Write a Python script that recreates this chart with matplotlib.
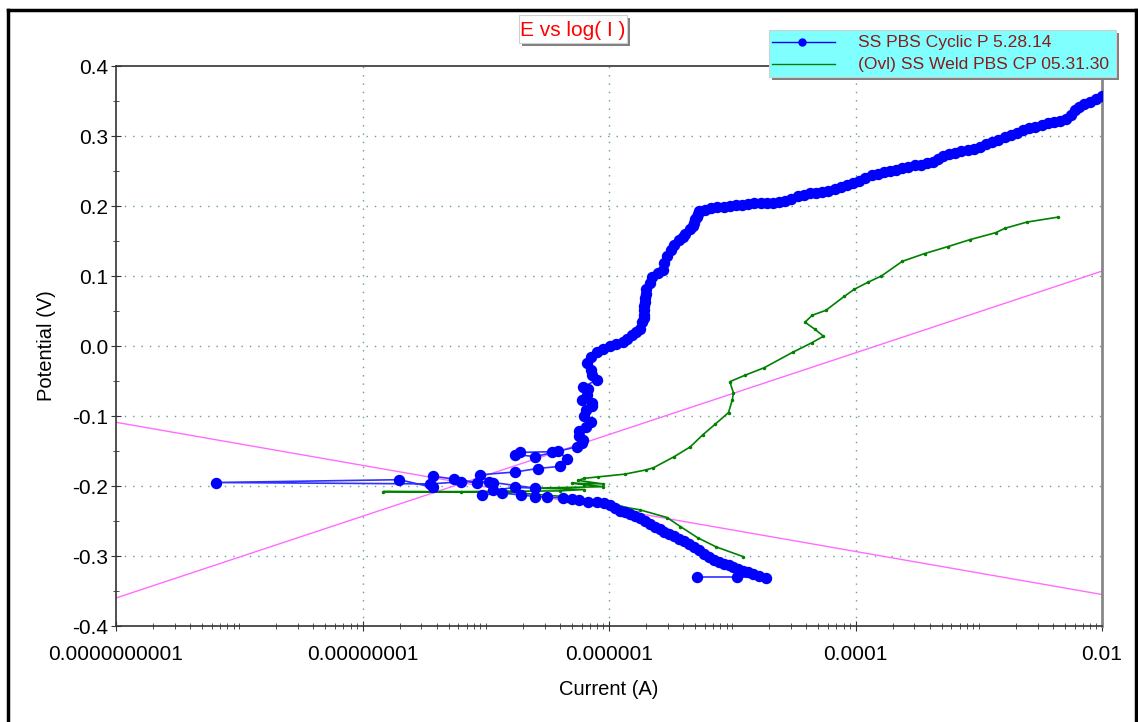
import numpy as np
import matplotlib
matplotlib.use("Agg")
import matplotlib.pyplot as plt
from matplotlib.patches import Rectangle
from matplotlib.lines import Line2D
from matplotlib.ticker import FixedLocator, NullFormatter

plt.rcParams['font.family'] = ['Liberation Sans', 'DejaVu Sans']

# -----------------------------------------------------------
# Dados (log10 da corrente em A, potencial em V)
# -----------------------------------------------------------
serie_azul = "SS PBS Cyclic P 5.28.14"
# ramo catodico (de -0.33 V ate Ecorr)
azul_cat_logi = [-5.29, -4.96, -4.73, -4.78, -4.83, -4.87, -4.91, -4.95, -4.99, -5.03,
                 -5.07, -5.11, -5.15, -5.19, -5.23, -5.27, -5.31, -5.35, -5.39, -5.43,
                 -5.47, -5.51, -5.55, -5.59, -5.63, -5.67, -5.71, -5.75, -5.79, -5.83,
                 -5.87, -5.91, -5.95, -5.99, -6.04, -6.10, -6.17, -6.24, -6.30, -6.37,
                 -6.50, -6.60, -6.71, -6.87, -7.03]
azul_cat_e = [-0.330, -0.330, -0.331, -0.328, -0.325, -0.323, -0.321, -0.318, -0.316, -0.313,
              -0.311, -0.308, -0.305, -0.301, -0.297, -0.292, -0.287, -0.283, -0.279, -0.275,
              -0.271, -0.268, -0.265, -0.262, -0.258, -0.254, -0.250, -0.246, -0.243, -0.240,
              -0.237, -0.235, -0.231, -0.227, -0.224, -0.223, -0.223, -0.220, -0.218, -0.217,
              -0.216, -0.215, -0.213, -0.210, -0.213]
# regiao de Ecorr
azul_ecorr_logi = [-6.94, -6.76, -6.60, -6.94, -7.07, -7.26, -7.43, -7.43, -7.70, -9.19,
                   -7.45, -7.20, -6.97, -7.05, -6.76, -6.58, -6.40, -6.34, -6.41, -6.46,
                   -6.72, -6.76, -6.60]
azul_ecorr_e = [-0.206, -0.202, -0.203, -0.195, -0.195, -0.190, -0.186, -0.202, -0.191, -0.195,
                -0.197, -0.194, -0.194, -0.184, -0.180, -0.175, -0.172, -0.162, -0.150, -0.151,
                -0.152, -0.155, -0.158]
# ramo anodico
azul_an_logi = [-6.26, -6.22, -6.21, -6.24, -6.24, -6.19, -6.15, -6.20, -6.19, -6.14,
                -6.14, -6.22, -6.18, -6.17, -6.21, -6.10, -6.14, -6.15, -6.18, -6.15,
                -6.10, -6.05, -5.99, -5.94, -5.89, -5.85, -5.81, -5.78, -5.75, -5.73,
                -5.72, -5.72, -5.72, -5.72, -5.71, -5.71, -5.70, -5.70, -5.67, -5.65,
                -5.60, -5.56, -5.55, -5.53, -5.50, -5.47, -5.43, -5.40, -5.38, -5.34,
                -5.32, -5.31, -5.30, -5.29, -5.28, -5.27, -5.22, -5.17, -5.12, -5.07,
                -5.02, -4.97, -4.92, -4.87, -4.82, -4.77, -4.72, -4.67, -4.62, -4.57,
                -4.52, -4.47, -4.42, -4.37, -4.32, -4.27, -4.22, -4.17, -4.12, -4.07,
                -4.02, -3.97, -3.92, -3.87, -3.82, -3.77, -3.72, -3.67, -3.62, -3.57,
                -3.52, -3.47, -3.42, -3.37, -3.33, -3.29, -3.24, -3.19, -3.14, -3.09,
                -3.04, -2.99, -2.94, -2.89, -2.84, -2.79, -2.74, -2.69, -2.64, -2.59,
                -2.54, -2.49, -2.44, -2.39, -2.34, -2.29, -2.25, -2.22, -2.19, -2.15,
                -2.10, -2.05, -2.00]
azul_an_e = [-0.144, -0.139, -0.134, -0.128, -0.122, -0.116, -0.109, -0.100, -0.091, -0.086,
             -0.081, -0.077, -0.070, -0.062, -0.059, -0.048, -0.041, -0.034, -0.024, -0.016,
             -0.009, -0.004, 0.000, 0.003, 0.006, 0.010, 0.016, 0.020, 0.024, 0.034,
             0.040, 0.045, 0.051, 0.057, 0.063, 0.069, 0.075, 0.081, 0.090, 0.098,
             0.104, 0.109, 0.118, 0.128, 0.137, 0.145, 0.152, 0.156, 0.160, 0.167,
             0.172, 0.176, 0.181, 0.185, 0.189, 0.193, 0.195, 0.197, 0.198, 0.199,
             0.200, 0.201, 0.202, 0.203, 0.204, 0.204, 0.205, 0.205, 0.206, 0.207,
             0.210, 0.214, 0.216, 0.218, 0.219, 0.220, 0.222, 0.225, 0.227, 0.230,
             0.233, 0.236, 0.240, 0.244, 0.246, 0.248, 0.250, 0.252, 0.254, 0.256,
             0.258, 0.259, 0.261, 0.263, 0.267, 0.271, 0.274, 0.276, 0.278, 0.280,
             0.282, 0.285, 0.288, 0.291, 0.294, 0.298, 0.301, 0.304, 0.308, 0.311,
             0.313, 0.316, 0.318, 0.320, 0.322, 0.325, 0.330, 0.337, 0.342, 0.346,
             0.349, 0.353, 0.357]

serie_verde = "(Ovl) SS Weld PBS CP 05.31.30"
verde_logi = [-4.91, -5.13, -5.28, -5.42, -5.53, -5.75, -5.85, -5.94, -6.18, -6.34,
              -6.37, -6.80, -7.83, -7.20, -6.40, -6.20, -6.60, -6.05, -6.20, -6.30,
              -6.05, -6.25, -6.20, -6.09, -5.87, -5.70, -5.64, -5.47, -5.34, -5.24,
              -5.14, -5.03, -5.00, -4.99, -5.02, -4.90, -4.74, -4.51, -4.35, -4.26,
              -4.33, -4.41, -4.35, -4.24, -4.09, -4.01, -3.90, -3.79, -3.62, -3.44,
              -3.25, -3.07, -2.86, -2.79, -2.61, -2.36]
verde_e = [-0.301, -0.287, -0.274, -0.258, -0.245, -0.234, -0.231, -0.227, -0.224, -0.222,
           -0.215, -0.209, -0.208, -0.208, -0.207, -0.205, -0.203, -0.201, -0.198, -0.196,
           -0.197, -0.192, -0.189, -0.187, -0.183, -0.177, -0.174, -0.158, -0.144, -0.127,
           -0.112, -0.095, -0.077, -0.067, -0.051, -0.042, -0.031, -0.009, 0.005, 0.014,
           0.024, 0.034, 0.044, 0.051, 0.071, 0.081, 0.091, 0.100, 0.121, 0.132,
           0.142, 0.152, 0.162, 0.168, 0.177, 0.184]

# retas de Tafel (extremos do eixo)
tafel_logi = [-10.0, -2.0]
tafel_cat_e = [-0.109, -0.355]
tafel_an_e = [-0.360, 0.107]

rotulos_x = ["0.0000000001", "0.00000001", "0.000001", "0.0001", "0.01"]
posicoes_x = [1e-10, 1e-8, 1e-6, 1e-4, 1e-2]
rotulos_y = ["-0.4", "-0.3", "-0.2", "-0.1", "0.0", "0.1", "0.2", "0.3", "0.4"]

# -----------------------------------------------------------
# Figura
# -----------------------------------------------------------
W, H = 1138, 722
fig = plt.figure(figsize=(W / 100, H / 100), dpi=100)
ax = fig.add_axes([116 / W, 1 - 626 / H, (1102 - 116) / W, (626 - 66) / H])

cor_grade = "#6a9a9a"
for xv in posicoes_x[1:-1]:
    ax.axvline(xv, color=cor_grade, lw=1, ls=(0, (1, 5)), zorder=0)
for yv in np.arange(-0.3, 0.35, 0.1):
    ax.axhline(yv, color=cor_grade, lw=1, ls=(0, (1, 5)), zorder=0)

ax.plot(10.0 ** np.array(tafel_logi), tafel_cat_e, color="#ff6cff", lw=1, zorder=2)
ax.plot(10.0 ** np.array(tafel_logi), tafel_an_e, color="#ff6cff", lw=1, zorder=2)

ax.plot(10.0 ** np.array(verde_logi), verde_e, color="#008000", lw=1.2,
        marker="o", ms=1.5, zorder=3)

azul_logi = azul_cat_logi + azul_ecorr_logi + azul_an_logi
azul_e = azul_cat_e + azul_ecorr_e + azul_an_e
ax.plot(10.0 ** np.array(azul_logi), azul_e, color="#3030ff", lw=1.2,
        marker="o", ms=7.2, mfc="#0000ff", mec="#0000ff", zorder=4)

ax.set_xscale("log")
ax.set_xlim(1e-10, 1e-2)
ax.set_ylim(-0.4, 0.4)

ax.xaxis.set_major_locator(FixedLocator(posicoes_x))
ax.set_xticklabels(rotulos_x)
decadas = [10.0 ** k for k in range(-10, -2)]
menores = [m * d for d in decadas for m in range(2, 10)] + [1e-9, 1e-7, 1e-5, 1e-3]
ax.xaxis.set_minor_locator(FixedLocator(menores))
ax.xaxis.set_minor_formatter(NullFormatter())

ax.set_yticks(np.linspace(-0.4, 0.4, 9))
ax.set_yticklabels(rotulos_y)
ax.set_yticks(np.arange(-0.35, 0.4, 0.1), minor=True)

ax.tick_params(axis="both", which="major", labelsize=15, length=7, direction="inout",
               color="#333333")
ax.tick_params(axis="x", which="major", pad=10)
ax.tick_params(axis="y", which="major", pad=2)
ax.tick_params(axis="both", which="minor", length=5, direction="inout", color="#333333")

for s in ["left", "bottom", "top"]:
    ax.spines[s].set_color("#333333")
    ax.spines[s].set_linewidth(1.2)
ax.spines["right"].set_color("#888888")
ax.spines["right"].set_linewidth(2)

ax.set_xlabel("Current (A)", fontsize=14.5, labelpad=12)
ax.set_ylabel("Potential (V)", fontsize=14.5, labelpad=12)

# -----------------------------------------------------------
# Moldura, titulo e legenda (coordenadas em pixels da figura)
# -----------------------------------------------------------
def px(x, y):
    return x / W, 1 - y / H

borda = dict(color="black", lw=2.5, transform=fig.transFigure)
fig.add_artist(Line2D([8 / W, 8 / W], [0, 1 - 10 / H], **borda))
fig.add_artist(Line2D([8 / W, 1136 / W], [1 - 10 / H, 1 - 10 / H], **borda))
fig.add_artist(Line2D([1136 / W, 1136 / W], [0, 1 - 10 / H], **borda))


def caixa(x0, y0, x1, y1, cor):
    fig.add_artist(Rectangle(px(x0 + 3, y1 + 3), (x1 - x0) / W, (y1 - y0) / H,
                             transform=fig.transFigure, facecolor="#808080",
                             edgecolor="none"))
    fig.add_artist(Rectangle(px(x0, y1), (x1 - x0) / W, (y1 - y0) / H,
                             transform=fig.transFigure, facecolor=cor,
                             edgecolor="#d0d0d0", lw=0.8))


caixa(519, 15, 627, 43, "white")
fig.text(*px(573, 30), "E vs log( I )", color="red", fontsize=15,
         ha="center", va="center")

caixa(769, 30, 1116, 77, "#80ffff")
fig.add_artist(Line2D([772 / W, 835 / W], [1 - 42 / H] * 2, color="#0000ff", lw=1,
                      transform=fig.transFigure))
fig.add_artist(Line2D([802 / W], [1 - 42 / H], color="#0000ff", marker="o", ms=5,
                      transform=fig.transFigure))
fig.add_artist(Line2D([772 / W, 835 / W], [1 - 64 / H] * 2, color="#008000", lw=1,
                      transform=fig.transFigure))
fig.text(*px(858, 43), serie_azul, color="#8b1a1a", fontsize=12.6, va="center")
fig.text(*px(858, 65), serie_verde, color="#8b1a1a", fontsize=12.6, va="center")

fig.savefig("out.png", dpi=100)
